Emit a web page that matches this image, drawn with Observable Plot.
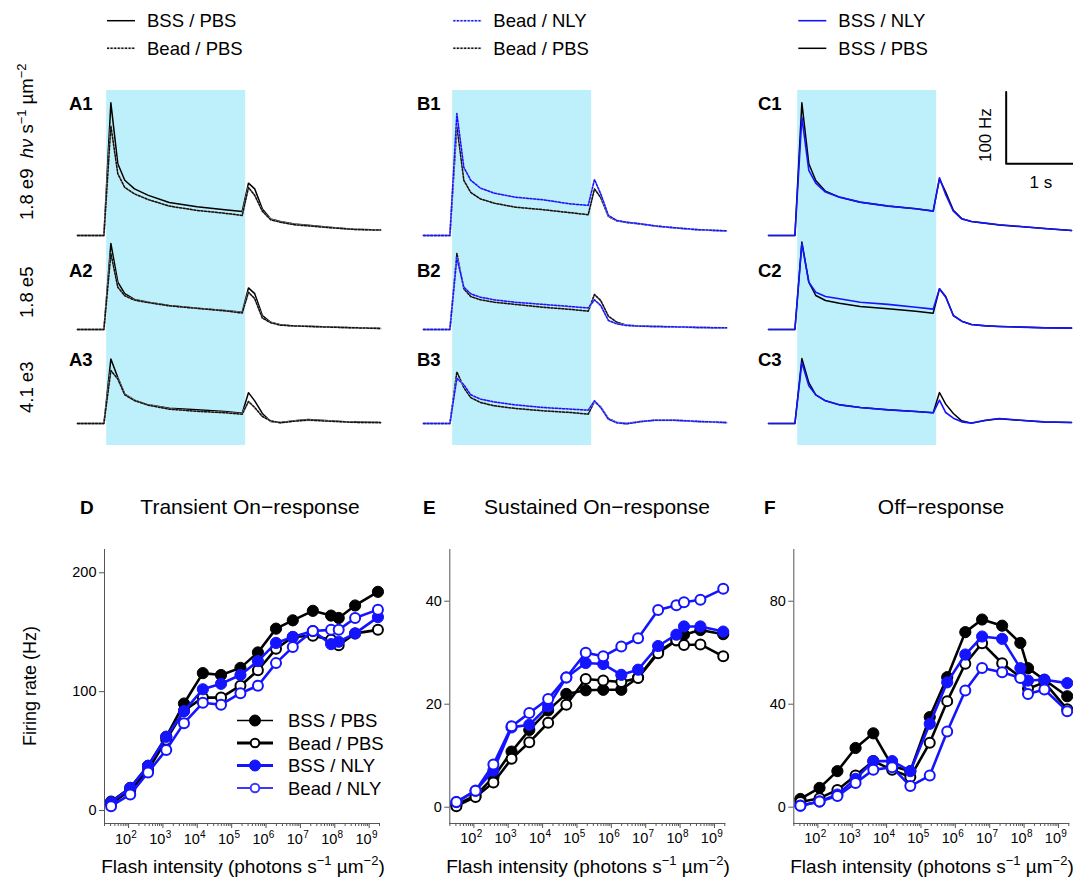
<!DOCTYPE html>
<html><head><meta charset="utf-8">
<script src="https://cdn.jsdelivr.net/npm/d3@7"></script>
<script src="https://cdn.jsdelivr.net/npm/@observablehq/plot@0.6"></script>
<style>
html,body{margin:0;padding:0;background:#fff;overflow:hidden;}
#fig{position:relative;width:1073px;height:879px;font-family:"Liberation Sans",Arial,Helvetica,sans-serif;color:#000;background:#fff;}
</style></head><body><div id="fig"></div>
<script>
// ---------------- DATA ----------------
// PSTH time grid (s, light on at 0, off at 2)
const traceTime = [-0.42,-0.04,0.06,0.16,0.26,0.4,0.6,0.9,1.3,1.7,1.95,2.04,2.13,2.24,2.36,2.5,2.7,2.9,3.2,3.55,3.94];
const stimulus = [{start: 0, end: 2}];
// Column A (BSS/PBS vs Bead/PBS), firing rate Hz
const a1BssPbs  = [0,0,185,100,77,65,56,46,40,36,33.5,73,65,37,23,19.5,16,14.4,11.6,8.8,7.7];
const a1BeadPbs = [0,0,153,86,67,58,50,41,35,31,28,67,56,34,22,18.5,15,13.5,11,8.5,7.5];
const a2BssPbs  = [0,0,120,66,50,42,38,33.5,29.7,26.5,24,58,50,19.5,10,6.5,5,4.5,3.5,2.5,1.5];
const a2BeadPbs = [0,0,106,59,47,41,37.5,33,29.5,26,23,52,43,16,9.5,6,5,4.3,3.3,2.4,1.5];
const a3BssPbs  = [0,0,90,64,41,32.5,26,21.4,19,16.7,14.4,43,31.6,14,2.8,1.4,3.7,5.6,3.7,1.9,1.4];
const a3BeadPbs = [0,0,74,62,40,32,25.5,20,17,15,13,30.7,22.3,9.8,3.7,1,3.2,4.8,3.2,1.6,1.2];
// Column B (Bead/NLY vs Bead/PBS)
const b1BeadNly = [0,0,170,95,77,66,59,53.4,49.8,44,42,78,58,28,21,18.6,16.3,13.5,10.7,8,6.5];
const b1BeadPbs = [0,0,153,77,60,51,45,39.5,36,31.7,29,65,53,26.5,20.5,18.2,16,13.3,10.5,7.8,6.3];
const b2BeadNly = [0,0,100,59,49.7,45,41.4,38,35,32,30,41.4,33.5,12.6,7.9,5.6,4.6,4.2,3.7,2.8,2.3];
const b2BeadPbs = [0,0,106,56.7,46,41.4,38,35,31,28,25.6,48.8,40.4,18.6,10.2,6,4.8,4.2,3.6,2.7,2.2];
const b3BeadNly = [0,0,63,54,40,34,30,26,22.3,20,18.6,31.6,22.3,6,1,-0.5,2.5,4.6,4.6,2.8,1.4];
const b3BeadPbs = [0,0,72,50,36,29.3,24.6,21,17.7,15.3,13,30.7,23,7,1.5,0,2.8,4.4,4.4,2.6,1.2];
// Column C (BSS/NLY vs BSS/PBS)
const c1BssNly = [0,0,165,90.7,73,60.5,53.5,46.5,41,37.2,34,80.4,57,34,23.2,19.5,17.2,14.9,12.6,9.8,7];
const c1BssPbs = [0,0,185,100,76.7,61.8,53.5,46.5,41,37.2,34,79,60.5,35,23.5,19.5,17,14.7,12.4,9.6,6.8];
const c2BssNly = [0,0,120,66,52,46,42.8,38,35,31,28.4,56.7,45,19.5,11.6,7,5.1,4.2,3.3,2.3,1.9];
const c2BssPbs = [0,0,122,66,47.4,40.4,36.7,32,28.8,25.6,22.8,56.7,46,19.5,11.6,7,5.1,4.2,3.3,2.3,1.9];
const c3BssNly = [0,0,85,52.5,40,31.6,26,22.3,19,16.7,14.9,32.5,15.3,7.4,2.3,0.5,4.6,7,4.6,2.3,1.4];
const c3BssPbs = [0,0,90.6,57,40,31.6,26,22.3,19,16.7,14.9,43.2,27,14,3.7,0.5,4.3,6.6,4.4,2.2,1.3];
// Scale bar (Hz, s)
const scaleBarPath = [{t:3, v:200},{t:3, v:100},{t:4, v:100}];
const scaleBarLabels = ["100 Hz", "1 s"];
// Intensity-response (flash intensity, photons s^-1 um^-2)
const intensity = [31,112,370,1250,4100,14500,49000,180000,580000,1950000,6000000,23000000,78000000,130000000,390000000,1800000000];
const dBssPbs  = [7.5,19,37.6,62,90,115.6,114,120,133,153,160,168,164,162,172.5,184];
const dBeadPbs = [5.6,17,34,59.5,84,95,95,105,118,136,146,147,143.6,139,149,152];
const dBssNly  = [7,19,37.6,62,83.6,102,106.6,114,125.7,141,146,151,140,142,149,162.7];
const dBeadNly = [3.6,13.5,32,51,73.5,90.6,89,98.7,105,124,137.5,151,152,152,162,169];
const eBssPbs  = [0.5,2.3,5.8,10.8,15,18.8,22,22.7,22.8,22.8,25.2,30.2,32.4,33.5,34.4,33.6];
const eBeadPbs = [0.2,2,4.8,9.4,12.6,16.4,19.9,24.9,24.6,24.3,25.1,29.9,32.4,31.5,31.6,29.3];
const eBssNly  = [1,3.2,7.1,15.5,16,19.6,25.2,28,27.8,25.7,26.7,31.3,33.5,35.1,35.1,34.1];
const eBeadNly = [1,3.2,8.3,15.7,18.3,21,25.2,30,29.3,31.2,32.8,38.3,39.2,39.8,40.3,42.4];
const fBssPbs  = [3.2,7.5,14,23,28.7,16,14,35,50.5,68,72.9,70.5,63.8,54,49.5,43.1];
const fBeadPbs = [2,3.5,6.7,12.3,17.9,14.5,11.7,25,41.2,55.7,63.7,55.9,50.5,46,48.5,38];
const fBssNly  = [0.6,2.2,4.9,11,17.9,17.9,14,32.4,48.5,59.3,66.3,65.4,54,49.2,49.5,48.2];
const fBeadNly = [0.6,2.2,4.3,9.4,14.5,15.5,8.2,12.3,29.4,45.3,54.1,52.4,50.2,44,45.7,37.3];
// Tick labels / text
const yTicksD = [0,100,200], yTicksE = [0,20,40], yTicksF = [0,40,80];
const decadeTicks = [1e2,1e3,1e4,1e5,1e6,1e7,1e8,1e9];
const decadeBase = "10";
const seriesNames = ["BSS / PBS","Bead / PBS","BSS / NLY","Bead / NLY"];
const rowIntensityLabels = ["1.8 e9","1.8 e5","4.1 e3"];
const panelLetters = [["A1","A2","A3"],["B1","B2","B3"],["C1","C2","C3"]];
const bottomLetters = ["D","E","F"];
const bottomTitles = ["Transient On\u2212response","Sustained On\u2212response","Off\u2212response"];

// ---------------- LAYOUT / STYLE ----------------
const FONT = '"Liberation Sans", Arial, Helvetica, sans-serif';
const fig = document.getElementById("fig");
const BLUE = "#1414ff";
const PX_PER_S = 69.5, PX_PER_HZ = 0.717;
const tDomain = [-0.42, 3.94];
const onsetX = [106, 452.3, 797.3];
const baseY = [235, 329, 423];

function place(svg, left, top) {
  Object.assign(svg.style, {position:"absolute", left:left+"px", top:top+"px", overflow:"visible", background:"transparent", maxWidth:"none"});
  fig.appendChild(svg);
}

const solidBlack = {color:"#000", width:1.5};
const dashBlack  = {color:"#111", width:1.5, dash:"2,1.6", under:"#c4c4c4"};
const dashBlue   = {color:BLUE, width:1.5, dash:"2,1.6", under:"#c2c2ea"};
const solidBlue  = {color:BLUE, width:1.6};

function traceMarks(values, st) {
  const data = traceTime.map((t, i) => ({t, v: values[i]}));
  const m = [];
  if (st.under) m.push(Plot.line(data, {x:"t", y:"v", stroke:st.under, strokeWidth:st.width + 0.3}));
  m.push(Plot.line(data, {x:"t", y:"v", stroke:st.color, strokeWidth:st.width, strokeDasharray:st.dash}));
  return m;
}

const mL = 10, mR = 2, traceW = (tDomain[1]-tDomain[0])*PX_PER_S;
// stimulus shading per column
for (let c = 0; c < 3; c++) {
  const svg = Plot.plot({
    width: mL+traceW+mR, height: 355, marginLeft: mL, marginRight: mR, marginTop: 0, marginBottom: 0,
    x: {domain: tDomain, axis: null},
    marks: [Plot.rect(stimulus, {x1:"start", x2:"end", fill:"#bdf0fb"})]
  });
  place(svg, onsetX[c] + tDomain[0]*PX_PER_S - mL, 90);
}

const tracePanels = [
  {c:0, r:0, tr:[[a1BssPbs, solidBlack],[a1BeadPbs, dashBlack]]},
  {c:0, r:1, tr:[[a2BssPbs, solidBlack],[a2BeadPbs, dashBlack]]},
  {c:0, r:2, tr:[[a3BssPbs, solidBlack],[a3BeadPbs, dashBlack]]},
  {c:1, r:0, tr:[[b1BeadPbs, dashBlack],[b1BeadNly, dashBlue]]},
  {c:1, r:1, tr:[[b2BeadPbs, dashBlack],[b2BeadNly, dashBlue]]},
  {c:1, r:2, tr:[[b3BeadPbs, dashBlack],[b3BeadNly, dashBlue]]},
  {c:2, r:0, tr:[[c1BssPbs, solidBlack],[c1BssNly, solidBlue]], bar:true},
  {c:2, r:1, tr:[[c2BssPbs, solidBlack],[c2BssNly, solidBlue]]},
  {c:2, r:2, tr:[[c3BssPbs, solidBlack],[c3BssNly, solidBlue]]},
];
for (const p of tracePanels) {
  const marks = p.tr.flatMap(([v, st]) => traceMarks(v, st));
  if (p.bar) {
    marks.push(Plot.line(scaleBarPath, {x:"t", y:"v", stroke:"#000", strokeWidth:2}));
    marks.push(Plot.text([scaleBarLabels[0]], {x: scaleBarPath[1].t, y: 140, dx: -21, rotate: -90, fontSize: 17, fill:"#000"}));
    marks.push(Plot.text([scaleBarLabels[1]], {x: (scaleBarPath[1].t + scaleBarPath[2].t)/2, y: scaleBarPath[1].v, dy: 19, fontSize: 17, fill:"#000"}));
  }
  const svg = Plot.plot({
    width: mL+traceW+mR, height: 160, marginLeft: mL, marginRight: mR, marginTop: 0, marginBottom: 20,
    x: {domain: tDomain, axis: null},
    y: {domain: [0, 140/PX_PER_HZ], axis: null},
    style: {fontFamily: FONT},
    marks
  });
  place(svg, onsetX[p.c] + tDomain[0]*PX_PER_S - mL, baseY[p.r] - 140);
}

// ---------------- Intensity-response panels ----------------
const xDomain = [10**1.3, 10**9.33];
const minorTicks = [];
for (let e = 1; e <= 9; e++) for (let k = 2; k <= 9; k++) { const v = k*10**e; if (v > xDomain[0] && v < xDomain[1]) minorTicks.push(v); }
const seriesStyle = [
  {color:"#000", filled:true},
  {color:"#000", filled:false},
  {color:BLUE, filled:true},
  {color:BLUE, filled:false}
];
function responsePanel(left, axisX, yDomain, yTicks, values) {
  const plotW = 276, mT = 9, plotH = 274, mB = 47;
  const mLeft = axisX - left;
  const width = mLeft + plotW + 6;
  const marks = [
    Plot.ruleX([xDomain[0]], {stroke:"#555"}),
    Plot.ruleY([yDomain[0]], {stroke:"#555"}),
    Plot.axisY({ticks: yTicks, tickSize: 5, tickPadding: 3, fontSize: 14.5, label: null, stroke:"#555", fill:"#000"}),
    Plot.axisX({ticks: minorTicks, tickSize: 3, tickFormat: () => "", label: null, stroke:"#555"}),
    Plot.axisX({ticks: decadeTicks, tickSize: 5, tickFormat: () => "", label: null, stroke:"#555"}),
    Plot.text(decadeTicks, {x: d => d, frameAnchor: "bottom", text: () => decadeBase, dy: 20, dx: 2.5, textAnchor: "end", fontSize: 14.5, fill: "#000"}),
    Plot.text(decadeTicks, {x: d => d, frameAnchor: "bottom", text: d => String(Math.round(Math.log10(d))), dy: 14, dx: 2.8, textAnchor: "start", fontSize: 10, fill: "#000"})
  ];
  values.forEach((vals, i) => {
    const st = seriesStyle[i];
    const data = intensity.map((x, j) => ({x, y: vals[j]}));
    marks.push(Plot.line(data, {x:"x", y:"y", stroke: st.color, strokeWidth: 2.6}));
    marks.push(Plot.dot(data, {x:"x", y:"y", r: st.filled ? 5.6 : 5, fill: st.filled ? st.color : "#fff", stroke: st.color, strokeWidth: st.filled ? 1 : 2}));
  });
  const svg = Plot.plot({
    width, height: mT+plotH+mB, marginLeft: mLeft, marginRight: 6, marginTop: mT, marginBottom: mB,
    x: {type: "log", domain: xDomain},
    y: {domain: yDomain},
    style: {fontFamily: FONT, fontSize: "14px", color: "#000"},
    marks
  });
  place(svg, left, 549 - mT);
}
responsePanel(0, 104, [-10.94, 219.6], yTicksD, [dBssPbs, dBeadPbs, dBssNly, dBeadNly]);
responsePanel(400, 449.3, [-3.16, 50.04], yTicksE, [eBssPbs, eBeadPbs, eBssNly, eBeadNly]);
responsePanel(745, 793.3, [-6.33, 100.1], yTicksF, [fBssPbs, fBeadPbs, fBssNly, fBeadNly]);

// ---------------- Text / legends overlay ----------------
const o = [];
const T = (x, y, s, attrs = "") => o.push(`<text x="${x}" y="${y}" ${attrs}>${s}</text>`);
const lineSwatch = (x1, x2, y, st) => {
  if (st.under) o.push(`<line x1="${x1}" x2="${x2}" y1="${y}" y2="${y}" stroke="${st.under}" stroke-width="${st.width + 0.3}"/>`);
  o.push(`<line x1="${x1}" x2="${x2}" y1="${y}" y2="${y}" stroke="${st.color}" stroke-width="${st.width}" ${st.dash ? `stroke-dasharray="${st.dash}"` : ""}/>`);
};
// top legends
const topLegends = [
  [[seriesNames[0], solidBlack],[seriesNames[1], dashBlack]],
  [[seriesNames[3], dashBlue],[seriesNames[1], dashBlack]],
  [[seriesNames[2], solidBlue],[seriesNames[0], solidBlack]]
];
topLegends.forEach((items, c) => items.forEach(([name, st], k) => {
  const yc = 20.7 + k*27.6;
  lineSwatch(onsetX[c]+1, onsetX[c]+29, yc, st);
  T(onsetX[c]+41, yc+6.6, name, 'font-size="18.5"');
}));
// panel letters
const letterX = [69, 417, 758], letterY = [110, 277, 366];
panelLetters.forEach((col, c) => col.forEach((s, r) => T(letterX[c], letterY[r], s, 'font-size="18.5" font-weight="bold"')));
// row intensity labels (rotated)
const rowLabelY = [220, 318, 413];
rowIntensityLabels.forEach((s, r) => {
  let inner = s;
  if (r === 0) inner = `${s}\u00a0\u00a0<tspan font-style="italic">h\u03bd</tspan>\u00a0s<tspan font-size="13" dy="-7">\u22121</tspan><tspan dy="7">\u00a0\u00b5m</tspan><tspan font-size="13" dy="-7">\u22122</tspan>`;
  o.push(`<text transform="translate(33,${rowLabelY[r]}) rotate(-90)" font-size="18.5">${inner}</text>`);
});
// bottom titles
const letterBX = [80, 423, 764], titleCX = [250, 597, 941], plotCX = [243, 588, 932];
bottomLetters.forEach((s, i) => {
  T(letterBX[i], 514, s, 'font-size="19" font-weight="bold"');
  T(titleCX[i], 514, bottomTitles[i], 'font-size="21" text-anchor="middle"');
  o.push(`<text x="${plotCX[i]}" y="873" font-size="19" text-anchor="middle">Flash intensity (photons s<tspan font-size="13" dy="-8">\u22121</tspan><tspan dy="8"> \u00b5m</tspan><tspan font-size="13" dy="-8">\u22122</tspan><tspan dy="8">)</tspan></text>`);
});
o.push(`<text transform="translate(36,686) rotate(-90)" font-size="18" text-anchor="middle">Firing rate (Hz)</text>`);
// D legend
const legY = [727, 749.5, 772, 794.5];
const legLineW = [1.5, 2.8, 2.8, 2.2];
seriesNames.forEach((name, i) => {
  const st = seriesStyle[i], yc = legY[i] - 6.5;
  const col = i === 3 ? "#3a3aff" : st.color;
  o.push(`<line x1="237" x2="273" y1="${yc}" y2="${yc}" stroke="${col}" stroke-width="${legLineW[i]}"/>`);
  o.push(`<circle cx="255" cy="${yc}" r="${st.filled ? 5.5 : 4.3}" fill="${st.filled ? col : "#fff"}" stroke="${col}" stroke-width="${st.filled ? 1 : 2}"/>`);
  T(288, legY[i], name, 'font-size="18.5"');
});
const ov = document.createElementNS("http://www.w3.org/2000/svg", "svg");
ov.setAttribute("width", 1073); ov.setAttribute("height", 879);
ov.setAttribute("style", `position:absolute;left:0;top:0;font-family:${FONT.replace(/"/g, "'")};fill:#000;pointer-events:none;`);
ov.innerHTML = o.join("");
fig.appendChild(ov);
</script></body></html>
